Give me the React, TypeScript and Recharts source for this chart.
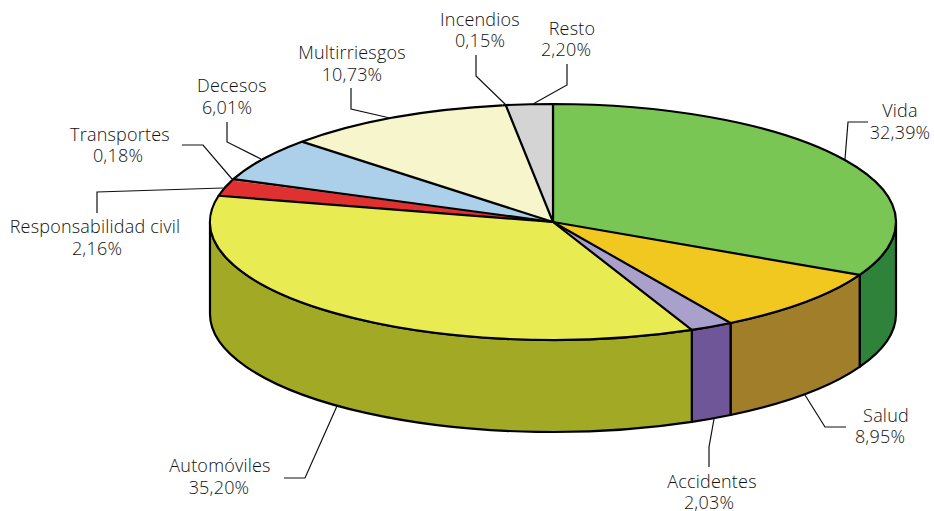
import React from 'react';
import { PieChart, Pie } from 'recharts';

const categories = ['Vida', 'Salud', 'Accidentes', 'Automóviles', 'Responsabilidad civil', 'Transportes', 'Decesos', 'Multirriesgos', 'Incendios', 'Resto'];
const shares = [32.39, 8.95, 2.03, 35.2, 2.16, 0.18, 6.01, 10.73, 0.15, 2.2];
// the two tiny slices take their neighbour's colour, the original shows no separate wedge for them
const topColors = ['#7AC655', '#F0C820', '#AAA0CC', '#E8EB52', '#E03030', '#E03030', '#ADD0EA', '#F6F5CB', '#F6F5CB', '#D4D4D4'];
const wallColors = ['#2F8239', '#A17E2A', '#6F5699', '#A2A925', '#8E1E1E', '#8E1E1E', '#6E8FA8', '#A8A780', '#A8A780', '#8F8F8F'];

// label layout: [name x, percent x, name baseline, percent baseline]
const labelLayout = [
  [900, 900, 117, 139],
  [886, 880, 422, 443],
  [712, 709, 488, 509],
  [220, 219, 472, 494],
  [95, 97, 233, 255],
  [120, 118, 141, 162],
  [232, 227, 92, 114],
  [352, 352, 59, 81],
  [480, 480, 26, 47],
  [572, 566, 35, 56],
];
const leaderLayout = [
  [[868, 122], [848, 122], [845, 159]],
  [[846, 427], [825, 427], [805, 395]],
  [[709, 467], [709, 447], [714, 419]],
  [[284, 478], [305, 478], [337, 406]],
  [[97, 213], [97, 192], [223, 188]],
  [[182, 145], [203, 145], [232, 179]],
  [[227, 122], [227, 142], [261, 159]],
  [[351, 88], [351, 109], [390, 118]],
  [[476, 55], [476, 76], [506, 105]],
  [[567, 64], [567, 85], [533, 104]],
];

const CX = 553;
const CY = 222;
const RX = 343;
const RY = 118;
const DEPTH = 92;
const SLIVER = 0.5;

const topData = categories.map((name, i) => ({ name, value: shares[i], fill: topColors[i] }));
const wallData = categories.map((name, i) => ({ name, value: shares[i], fill: wallColors[i] }));

// clockwise degrees from 12 o'clock -> point on the flattened pie
const rimPoint = (deg: number, dy = 0) => {
  const r = (deg * Math.PI) / 180;
  return [CX + RX * Math.sin(r), CY - RY * Math.cos(r) + dy];
};

const TopSlice = (props: any) => {
  const c0 = 90 - props.startAngle;
  const c1 = 90 - props.endAngle;
  const [x0, y0] = rimPoint(c0);
  const [x1, y1] = rimPoint(c1);
  const arc = `A${RX},${RY} 0 ${c1 - c0 > 180 ? 1 : 0} 1 ${x1},${y1}`;
  const isSliver = props.value < SLIVER;
  const isLast = c1 > 359.9;
  // each slice strokes its leading edge and rim only, so slivers leave no extra line
  const outline = isSliver
    ? `M${x0},${y0}${arc}`
    : `M${CX},${CY}L${x0},${y0}${arc}${isLast ? `L${CX},${CY}` : ''}`;
  return (
    <g>
      <path d={`M${CX},${CY}L${x0},${y0}${arc}Z`} fill={props.fill} stroke="none" />
      <path d={outline} fill="none" stroke="#000" strokeWidth={2.2} strokeLinejoin="round" />
    </g>
  );
};

const WallSlice = (props: any) => {
  const c0 = Math.max(90 - props.startAngle, 90);
  const c1 = Math.min(90 - props.endAngle, 270);
  if (c1 <= c0) return <g />;
  const [x0, y0] = rimPoint(c0);
  const [x1, y1] = rimPoint(c1);
  const [x2, y2] = rimPoint(c1, DEPTH);
  const [x3, y3] = rimPoint(c0, DEPTH);
  const d = `M${x0},${y0}A${RX},${RY} 0 0 1 ${x1},${y1}L${x2},${y2}A${RX},${RY} 0 0 0 ${x3},${y3}Z`;
  return <path d={d} fill={props.fill} stroke="#000" strokeWidth={2.2} strokeLinejoin="round" />;
};

const SliceLabel = (props: any) => {
  const i = props.index;
  const [x1, x2, y1, y2] = labelLayout[i];
  const pct = shares[i].toFixed(2).replace('.', ',') + '%';
  return (
    <g fill="#111" fontFamily="'Open Sans', sans-serif" fontWeight={300} fontSize={18} letterSpacing={0.2} textAnchor="middle">
      <text x={x1} y={y1}>{categories[i]}</text>
      <text x={x2} y={y2}>{pct}</text>
    </g>
  );
};

const LeaderLine = (props: any) => (
  <polyline
    points={leaderLayout[props.index].map((p) => p.join(',')).join(' ')}
    fill="none"
    stroke="#111"
    strokeWidth={1.2}
  />
);

export default function App() {
  return (
    <div style={{ position: 'absolute', left: 0, top: 0, width: 934, height: 511, background: '#fff' }}>
      <PieChart width={934} height={511} margin={{ top: 0, right: 0, bottom: 0, left: 0 }}>
        <Pie
          data={wallData}
          dataKey="value"
          nameKey="name"
          cx={CX}
          cy={CY}
          outerRadius={RX}
          startAngle={90}
          endAngle={-270}
          shape={WallSlice}
          label={false}
          labelLine={false}
          isAnimationActive={false}
        />
        <Pie
          data={topData}
          dataKey="value"
          nameKey="name"
          cx={CX}
          cy={CY}
          outerRadius={RX}
          startAngle={90}
          endAngle={-270}
          shape={TopSlice}
          label={SliceLabel}
          labelLine={LeaderLine}
          isAnimationActive={false}
        />
      </PieChart>
    </div>
  );
}
